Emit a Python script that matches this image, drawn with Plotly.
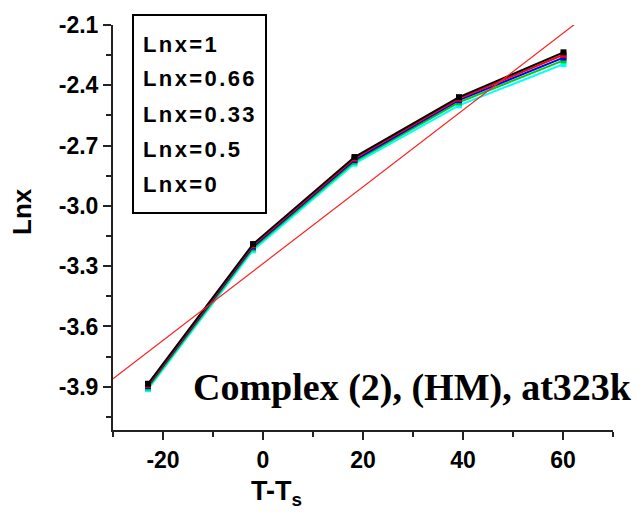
import plotly.graph_objects as go

# ---- data ----
x_vals = [-23, -2, 18.3, 39.2, 60.1]
series_names = ["Lnx=1", "Lnx=0.66", "Lnx=0.33", "Lnx=0.5", "Lnx=0"]
y_lnx1 = [-3.885, -3.190, -2.757, -2.459, -2.236]
y_lnx066 = [-3.890, -3.196, -2.764, -2.466, -2.248]
y_lnx033 = [-3.896, -3.203, -2.772, -2.474, -2.262]
y_lnx05 = [-3.904, -3.211, -2.780, -2.485, -2.276]
y_lnx0 = [-3.912, -3.221, -2.790, -2.500, -2.295]
series_colors = ["#000000", "#ff0000", "#0000ff", "#00d000", "#00ffff"]

fit_x = [-30, 70]
fit_y = [-3.86, -1.95]

xtick_vals = [-20, 0, 20, 40, 60]
xtick_text = ["-20", "0", "20", "40", "60"]
ytick_vals = [-3.9, -3.6, -3.3, -3.0, -2.7, -2.4, -2.1]
ytick_text = ["-3.9", "-3.6", "-3.3", "-3.0", "-2.7", "-2.4", "-2.1"]

note_text = "Complex (2), (HM), at323k"

# ---- figure ----
all_y = [y_lnx1, y_lnx066, y_lnx033, y_lnx05, y_lnx0]
fig = go.Figure()
# draw cyan first so black ends on top
for name, ys, col in reversed(list(zip(series_names, all_y, series_colors))):
    fig.add_trace(go.Scatter(
        x=x_vals, y=ys, mode="lines+markers", name=name,
        line=dict(color=col, width=2),
        marker=dict(symbol="square", size=6, color=col),
        showlegend=False))

fig.add_trace(go.Scatter(x=fit_x, y=fit_y, mode="lines",
                         line=dict(color="#ff2020", width=1.2),
                         showlegend=False))

W, H = 642, 520
L, R, T, B = 113, 29, 25, 90
pw, ph = W - L - R, H - T - B

def px(xp):
    return (xp - L) / pw

def py(yp):
    return (H - B - yp) / ph

tickfont = dict(family="Liberation Sans", size=23, color="black", weight="bold")

fig.update_layout(
    width=W, height=H,
    margin=dict(l=L, r=R, t=T, b=B),
    paper_bgcolor="white", plot_bgcolor="white",
    xaxis=dict(range=[-30, 70], tickvals=xtick_vals, ticktext=xtick_text,
               ticks="outside", ticklen=8, tickwidth=2, tickcolor="#222",
               showline=True, linecolor="#222", linewidth=2,
               showgrid=False, zeroline=False, tickfont=tickfont,
               minor=dict(dtick=10, tick0=0, ticks="outside", ticklen=5,
                          tickwidth=2, tickcolor="#222", showgrid=False)),
    yaxis=dict(range=[-4.115, -2.1], tickvals=ytick_vals, ticktext=ytick_text,
               ticks="outside", ticklen=8, tickwidth=2, tickcolor="#222",
               showline=True, linecolor="#222", linewidth=2,
               showgrid=False, zeroline=False, tickfont=tickfont,
               minor=dict(dtick=0.15, tick0=-3.9, ticks="outside", ticklen=5,
                          tickwidth=2, tickcolor="#222", showgrid=False)),
)

# legend box (text only)
fig.add_shape(type="rect", xref="paper", yref="paper",
              x0=px(133), x1=px(266), y0=py(213), y1=py(15),
              line=dict(color="black", width=2), fillcolor="rgba(0,0,0,0)")
for i, name in enumerate(series_names):
    fig.add_annotation(text='<span style="letter-spacing:2.4px">' + name + '</span>',
                       xref="paper", yref="paper",
                       x=px(141), y=py(44 + 35 * i), xanchor="left", yanchor="middle",
                       showarrow=False,
                       font=dict(family="Liberation Sans", size=22, color="black", weight="bold"))

# axis titles
fig.add_annotation(text="Lnx", xref="paper", yref="paper", x=px(22), y=py(212),
                   textangle=-90, showarrow=False, xanchor="center", yanchor="middle",
                   font=dict(family="Liberation Sans", size=26, color="black", weight="bold"))
fig.add_annotation(text="T-T<sub>s</sub>", xref="paper", yref="paper", x=px(276), y=py(493),
                   showarrow=False, xanchor="center", yanchor="middle",
                   font=dict(family="Liberation Sans", size=27, color="black", weight="bold"))

# note
fig.add_annotation(text=note_text, xref="paper", yref="paper", x=px(412), y=py(387),
                   showarrow=False, xanchor="center", yanchor="middle",
                   font=dict(family="Liberation Serif", size=38, color="black", weight="bold"))

fig.write_html("out.html")
